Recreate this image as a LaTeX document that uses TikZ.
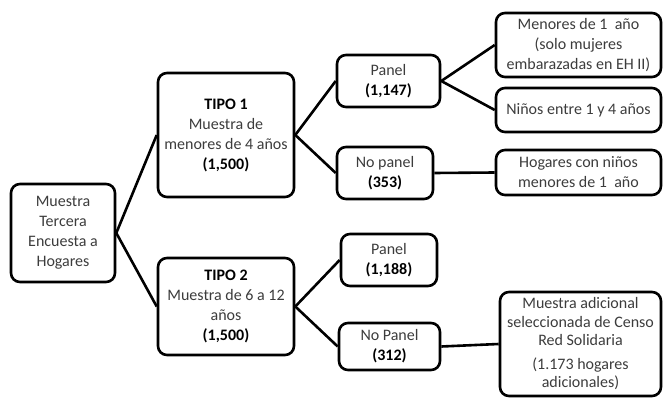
\documentclass[tikz,border=0pt]{standalone}
\usepackage{fontspec}
\setmainfont{Carlito}
\definecolor{bodytext}{HTML}{3C3C3C}
\begin{document}
\begin{tikzpicture}[x=1pt,y=-1pt,
  box/.style={draw=black, line width=2.6pt, rounded corners=9pt, align=center,
    inner sep=0pt, font=\fontsize{16}{20}\selectfont, text=bodytext},
  link/.style={line width=2.6pt, black},
  num/.style={}]
\newcommand{\numtxt}[1]{\textcolor{black}{\textbf{#1}}}
\useasboundingbox (0,0) rectangle (663,398);

% root
\node[box, minimum width=104pt, minimum height=98pt] (root) at (63,233)
  {Muestra\\Tercera\\Encuesta a\\Hogares};

% first level
\node[box, minimum width=136pt, minimum height=124pt] (tipo1) at (226,135)
  {\numtxt{TIPO 1}\\Muestra de\\menores de 4 años\\\numtxt{(1,500)}};
\node[box, minimum width=136pt, minimum height=97pt] (tipo2) at (226,306.5)
  {\numtxt{TIPO 2}\\Muestra de 6 a 12\\años\\\numtxt{(1,500)}};

% second level
\node[box, minimum width=103pt, minimum height=52pt] (p1) at (388.5,81)
  {Panel\\\numtxt{(1,147)}};
\node[box, minimum width=96pt, minimum height=52pt] (np1) at (385,173)
  {No panel\\\numtxt{(353)}};
\node[box, minimum width=96pt, minimum height=52pt] (p2) at (389,260)
  {Panel\\\numtxt{(1,188)}};
\node[box, minimum width=101pt, minimum height=47pt] (np2) at (389.5,346.5)
  {No Panel\\\numtxt{(312)}};

% third level
\node[box, minimum width=165pt, minimum height=64pt] (m1) at (578.5,45)
  {Menores de 1\ \ año\\(solo mujeres\\embarazadas en EH II)};
\node[box, minimum width=165pt, minimum height=44pt] (n14) at (578.5,110)
  {Niños entre 1 y 4 años};
\node[box, minimum width=165pt, minimum height=45pt] (hog) at (578.5,172.5)
  {Hogares con niños\\menores de 1\ \ año};
\node[box, minimum width=161pt, minimum height=104pt,
  font=\fontsize{16}{18.5}\selectfont] (mad) at (580.5,344)
  {Muestra adicional\\seleccionada de Censo\\Red Solidaria\\[5pt](1.173 hogares\\adicionales)};

% connectors
\draw[link] (root.east) -- (tipo1.west);
\draw[link] (root.east) -- (tipo2.west);
\draw[link] (tipo1.east) -- (p1.west);
\draw[link] (tipo1.east) -- (np1.west);
\draw[link] (tipo2.east) -- (p2.west);
\draw[link] (tipo2.east) -- (np2.west);
\draw[link] (p1.east) -- (m1.west);
\draw[link] (p1.east) -- (n14.west);
\draw[link] (np1.east) -- (hog.west);
\draw[link] (np2.east) -- (mad.west);
\end{tikzpicture}
\end{document}
